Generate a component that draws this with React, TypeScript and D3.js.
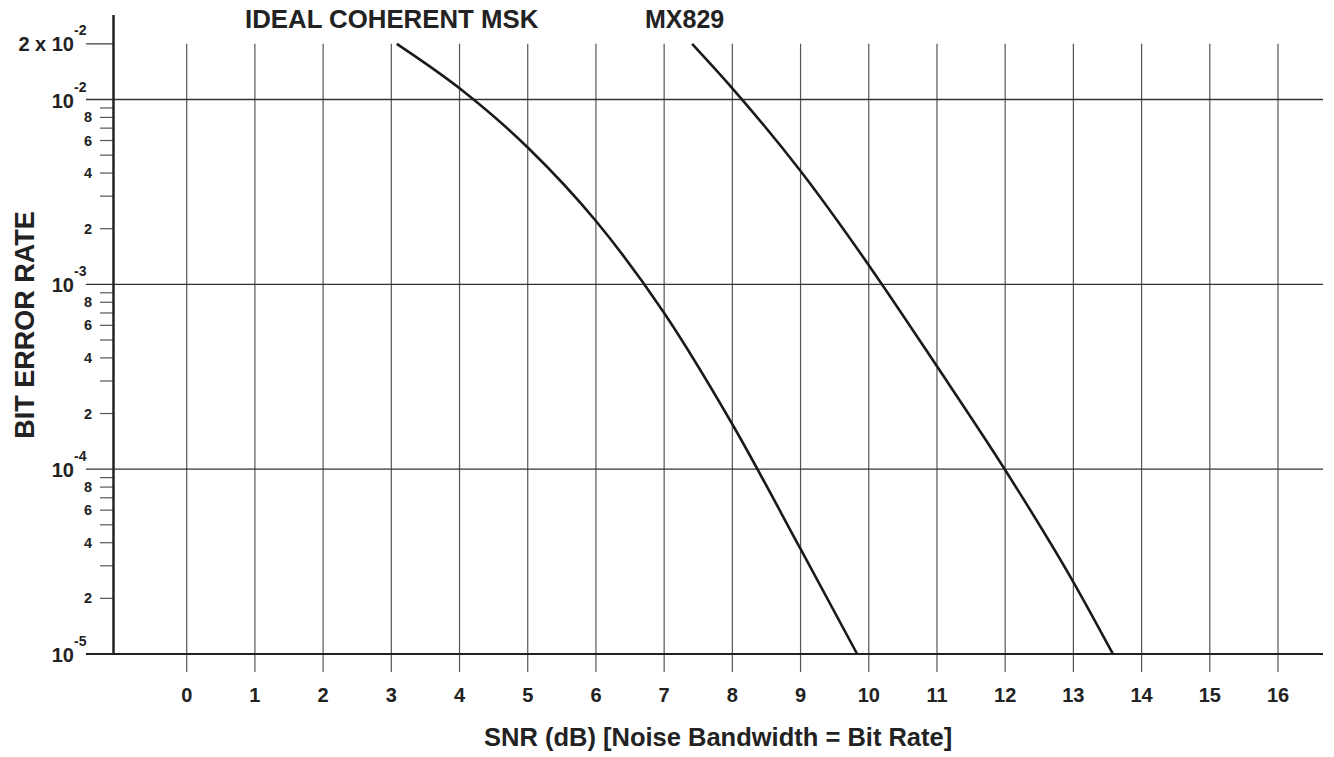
import React from "react";
import * as d3 from "d3";

const snrTicks = [0, 1, 2, 3, 4, 5, 6, 7, 8, 9, 10, 11, 12, 13, 14, 15, 16];
const decades = [1e-2, 1e-3, 1e-4, 1e-5];
const decadeExps = ["-2", "-3", "-4", "-5"];
const minorMultipliers = [2, 3, 4, 5, 6, 7, 8, 9];
const minorLabelled = [2, 4, 6, 8];
const minorDecades = [1e-5, 1e-4, 1e-3];

const idealSnr = [3.08, 4, 5, 6, 7, 8, 9, 9.83];
const idealBer = [2e-2, 1.15e-2, 5.5e-3, 2.2e-3, 7.0e-4, 1.75e-4, 3.7e-5, 1e-5];

const mx829Snr = [7.41, 8, 9, 10, 11, 12, 13, 13.58];
const mx829Ber = [2e-2, 1.15e-2, 4.1e-3, 1.27e-3, 3.6e-4, 9.9e-5, 2.45e-5, 1e-5];

const seriesLabels = ["IDEAL COHERENT MSK", "MX829"];

export default function App() {
  const W = 1334;
  const H = 757;
  const x = d3.scaleLinear().domain([0, 16]).range([186.7, 1278]);
  const y = d3.scaleLog().domain([1e-5, 1e-2]).range([654, 99.5]);
  const axisX = 113.5;
  const gridRight = 1323;
  const labelRight = 86;
  const yTop = y(2e-2);

  const line = d3
    .line<[number, number]>()
    .x((d) => x(d[0]))
    .y((d) => y(d[1]))
    .curve(d3.curveMonotoneX);

  const ideal = idealSnr.map((s, i) => [s, idealBer[i]] as [number, number]);
  const mx = mx829Snr.map((s, i) => [s, mx829Ber[i]] as [number, number]);

  const font = "'Liberation Sans', Arial, Helvetica, sans-serif";

  return (
    <svg
      width={W}
      height={H}
      style={{ position: "absolute", left: 0, top: 0, background: "#fff" }}
      fontFamily={font}
      fontWeight="bold"
    >
      {/* vertical grid lines */}
      {snrTicks.map((t) => (
        <line
          key={"v" + t}
          x1={x(t)}
          x2={x(t)}
          y1={yTop}
          y2={672}
          stroke="#555"
          strokeWidth={1.2}
        />
      ))}
      {/* horizontal decade lines */}
      {decades.map((d, i) => (
        <line
          key={"h" + i}
          x1={labelRight}
          x2={gridRight}
          y1={y(d)}
          y2={y(d)}
          stroke={d === 1e-5 ? "#222" : "#333"}
          strokeWidth={d === 1e-5 ? 2.2 : 1.3}
        />
      ))}
      {/* 2e-2 tick */}
      <line x1={labelRight} x2={axisX} y1={yTop} y2={yTop} stroke="#444" strokeWidth={1.3} />
      {/* minor ticks */}
      {minorDecades.map((dec) =>
        minorMultipliers.map((m) => (
          <line
            key={"m" + dec + "_" + m}
            x1={100}
            x2={axisX}
            y1={y(dec * m)}
            y2={y(dec * m)}
            stroke="#555"
            strokeWidth={1.2}
          />
        ))
      )}
      {/* left axis */}
      <line x1={axisX} x2={axisX} y1={15} y2={655} stroke="#222" strokeWidth={2.5} />

      {/* minor labels */}
      {minorDecades.map((dec) =>
        minorLabelled.map((m) => (
          <text
            key={"ml" + dec + "_" + m}
            x={92}
            y={y(dec * m)}
            textAnchor="end"
            dominantBaseline="central"
            fontSize={14.5}
            fill="#222"
          >
            {m}
          </text>
        ))
      )}
      {/* decade labels */}
      {decades.map((d, i) => (
        <g key={"dl" + i}>
          <text x={74} y={y(d) + 8} textAnchor="end" fontSize={20} fill="#222">
            10
          </text>
          <text x={74} y={y(d) - 8} textAnchor="start" fontSize={14} fill="#222">
            {decadeExps[i]}
          </text>
        </g>
      ))}
      <text x={74} y={yTop + 7} textAnchor="end" fontSize={20} fill="#222">
        2 x 10
      </text>
      <text x={74} y={yTop - 9} textAnchor="start" fontSize={14} fill="#222">
        -2
      </text>

      {/* x tick labels */}
      {snrTicks.map((t) => (
        <text
          key={"xl" + t}
          x={x(t)}
          y={702}
          textAnchor="middle"
          fontSize={20}
          fill="#222"
        >
          {t}
        </text>
      ))}

      {/* curves */}
      <path d={line(ideal) || ""} fill="none" stroke="#1a1a1a" strokeWidth={2.6} />
      <path d={line(mx) || ""} fill="none" stroke="#1a1a1a" strokeWidth={2.6} />

      {/* series labels */}
      <text x={245} y={28} fontSize={25.8} fill="#222">
        {seriesLabels[0]}
      </text>
      <text x={645} y={28} fontSize={25} fill="#222">
        {seriesLabels[1]}
      </text>

      {/* axis titles */}
      <text x={484} y={746} textAnchor="start" fontSize={25.5} fill="#222">
        SNR (dB) [Noise Bandwidth = Bit Rate]
      </text>
      <text
        transform="translate(34,325) rotate(-90)"
        textAnchor="middle"
        fontSize={27}
        fill="#222"
      >
        BIT ERROR RATE
      </text>
    </svg>
  );
}
